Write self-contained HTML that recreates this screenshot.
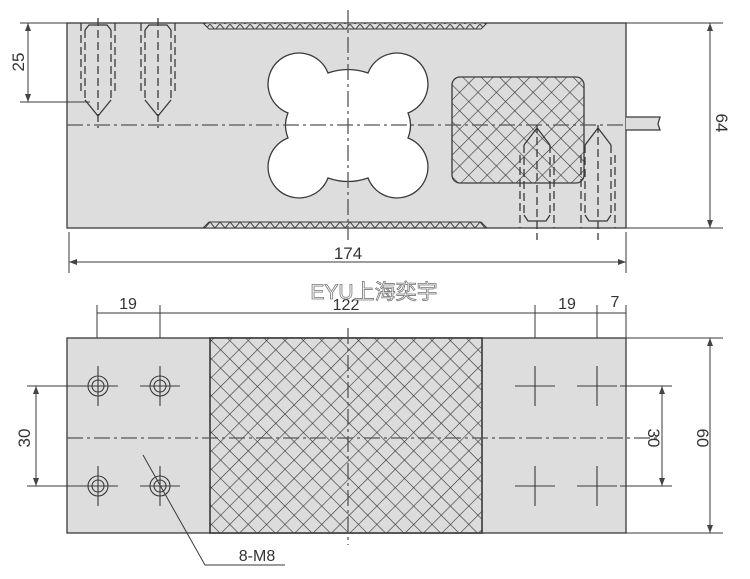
<!DOCTYPE html>
<html><head><meta charset="utf-8"><style>
html,body{margin:0;padding:0;background:#fff;}
svg{display:block;}
text{font-family:"Liberation Sans","Noto Sans CJK SC",sans-serif;fill:#333;}
</style></head><body>
<svg width="750" height="579" viewBox="0 0 750 579" xmlns="http://www.w3.org/2000/svg">
<defs>
<pattern id="h" width="13" height="13" patternUnits="userSpaceOnUse" patternTransform="rotate(45)">
<rect width="13" height="13" fill="#dcdcdc"/>
<line x1="0" y1="0" x2="0" y2="13" stroke="#333" stroke-width="1.2"/>
<line x1="0" y1="0" x2="13" y2="0" stroke="#333" stroke-width="1.2"/>
</pattern>
<pattern id="s" width="10" height="6" patternUnits="userSpaceOnUse">
<rect width="10" height="6" fill="#dcdcdc"/>
<path d="M0 0 L5 6 L10 0" fill="none" stroke="#444" stroke-width="1"/>
</pattern>
</defs>
<g stroke="#3a3a3a" stroke-width="1.3" fill="none">
<!-- TOP VIEW -->
<rect x="67" y="23" width="559" height="205" fill="#dddddd"/>
<polygon points="203,23 487,23 481,29 209,29" fill="url(#s)" stroke-width="1"/>
<polygon points="203,228 487,228 481,222 209,222" fill="url(#s)" stroke-width="1"/>
<!-- flower hole -->
<path d="M328,73 Q348,66 368,73 A31 31 0 1 1 408,113 Q413,125 408,138 A31 31 0 1 1 368,178 Q348,185 328,178 A31 31 0 1 1 288,138 Q283,125 288,113 A31 31 0 1 1 328,73 Z" fill="#fff"/>
<!-- hatched box -->
<rect x="452" y="77" width="132" height="106" rx="8" fill="url(#h)"/>
<!-- cable -->
<path d="M626,117 L660,117 L658,124 L660,130 L626,130" fill="#dddddd"/>
<!-- centerlines -->
<line x1="67" y1="125" x2="626" y2="125" stroke-dasharray="16,4,3,4" stroke="#555"/>
<line x1="348" y1="10" x2="348" y2="240" stroke-dasharray="16,4,3,4" stroke="#555"/>
<!-- left holes -->
<g stroke-dasharray="8,4">
<line x1="81" y1="23" x2="81" y2="92"/><line x1="115" y1="23" x2="115" y2="92"/>
<line x1="85" y1="30" x2="85" y2="100"/><line x1="111" y1="30" x2="111" y2="100"/>
<line x1="98" y1="18" x2="98" y2="128"/>
<line x1="141" y1="23" x2="141" y2="92"/><line x1="175" y1="23" x2="175" y2="92"/>
<line x1="145" y1="30" x2="145" y2="100"/><line x1="171" y1="30" x2="171" y2="100"/>
<line x1="158" y1="18" x2="158" y2="128"/>
</g>
<path d="M85,100 L98,116 L111,100 M85,30 L89,25 L107,25 L111,30 M145,100 L158,116 L171,100 M145,30 L149,25 L167,25 L171,30"/>
<!-- right holes -->
<g stroke-dasharray="8,4">
<line x1="520" y1="155" x2="520" y2="228"/><line x1="554" y1="155" x2="554" y2="228"/>
<line x1="524" y1="145" x2="524" y2="215"/><line x1="550" y1="145" x2="550" y2="215"/>
<line x1="537" y1="125" x2="537" y2="240"/>
<line x1="581" y1="155" x2="581" y2="228"/><line x1="615" y1="155" x2="615" y2="228"/>
<line x1="585" y1="145" x2="585" y2="215"/><line x1="611" y1="145" x2="611" y2="215"/>
<line x1="598" y1="125" x2="598" y2="240"/>
</g>
<path d="M524,145 L537,128 L550,145 M524,215 L528,221 L546,221 L550,215 M585,145 L598,128 L611,145 M585,215 L589,221 L607,221 L611,215"/>
<!-- dim 25 -->
<line x1="20" y1="23" x2="67" y2="23" stroke-width="1"/>
<line x1="20" y1="102" x2="90" y2="102" stroke-width="1"/>
<line x1="28" y1="23" x2="28" y2="102" stroke-width="1"/>
<!-- dim 64 -->
<line x1="626" y1="23" x2="723" y2="23" stroke-width="1"/>
<line x1="626" y1="228" x2="723" y2="228" stroke-width="1"/>
<line x1="710" y1="23" x2="710" y2="228" stroke-width="1"/>
<!-- dim 174 -->
<line x1="69" y1="232" x2="69" y2="273" stroke-width="1"/>
<line x1="626" y1="232" x2="626" y2="273" stroke-width="1"/>
<line x1="69" y1="262" x2="626" y2="262" stroke-width="1"/>
<!-- BOTTOM VIEW -->
<rect x="67" y="338" width="559" height="195" fill="#dddddd"/>
<rect x="210" y="338" width="272" height="195" fill="url(#h)" stroke-width="1.6"/>
<line x1="67" y1="438" x2="660" y2="438" stroke-dasharray="16,4,3,4" stroke="#555"/>
<line x1="348" y1="328" x2="348" y2="545" stroke-dasharray="16,4,3,4" stroke="#555"/>
<g stroke-width="1.1">
<circle cx="98" cy="386" r="10"/><circle cx="98" cy="386" r="6"/>
<circle cx="160" cy="386" r="10"/><circle cx="160" cy="386" r="6"/>
<circle cx="98" cy="486" r="10"/><circle cx="98" cy="486" r="6"/>
<circle cx="160" cy="486" r="10"/><circle cx="160" cy="486" r="6"/>
<path d="M78,386 H118 M98,366 V406 M140,386 H180 M160,366 V406 M78,486 H118 M98,466 V506 M140,486 H180 M160,466 V506"/>
<path d="M515,386 H555 M535,366 V406 M577,386 H617 M597,366 V406 M515,486 H555 M535,466 V506 M577,486 H617 M597,466 V506"/>
</g>
<!-- dim 30 left -->
<line x1="27" y1="386" x2="80" y2="386" stroke-width="1"/>
<line x1="27" y1="486" x2="80" y2="486" stroke-width="1"/>
<line x1="36" y1="386" x2="36" y2="486" stroke-width="1"/>
<!-- dim 30 right -->
<line x1="620" y1="386" x2="672" y2="386" stroke-width="1"/>
<line x1="620" y1="486" x2="672" y2="486" stroke-width="1"/>
<line x1="662" y1="386" x2="662" y2="486" stroke-width="1"/>
<!-- dim 60 -->
<line x1="626" y1="338" x2="723" y2="338" stroke-width="1"/>
<line x1="626" y1="533" x2="723" y2="533" stroke-width="1"/>
<line x1="710" y1="338" x2="710" y2="533" stroke-width="1"/>
<!-- top dims bottom view -->
<line x1="97" y1="313" x2="626" y2="313" stroke-width="1"/>
<path d="M97,305 V338 M160,305 V338 M535,305 V338 M597,305 V338 M626,305 V338" stroke-width="1"/>
<!-- leader -->
<path d="M143,455 L205,565 L285,565" stroke-width="1"/>
</g>
<g fill="#444">
<polygon points="28,23 25,31 31,31"/><polygon points="28,102 25,94 31,94"/>
<polygon points="710,23 707,31 713,31"/><polygon points="710,228 707,220 713,220"/>
<polygon points="69,262 77,259 77,265"/><polygon points="626,262 618,259 618,265"/>
<polygon points="36,386 33,394 39,394"/><polygon points="36,486 33,478 39,478"/>
<polygon points="662,386 659,394 665,394"/><polygon points="662,486 659,478 665,478"/>
<polygon points="710,338 707,346 713,346"/><polygon points="710,533 707,525 713,525"/>
</g>
<text x="348" y="259" font-size="17" text-anchor="middle">174</text>
<text transform="translate(24,62) rotate(-90)" font-size="17" text-anchor="middle">25</text>
<text transform="translate(716,123) rotate(90)" font-size="17" text-anchor="middle">64</text>
<text transform="translate(30,438) rotate(-90)" font-size="17" text-anchor="middle">30</text>
<text transform="translate(648,438) rotate(90)" font-size="17" text-anchor="middle">30</text>
<text transform="translate(697,438) rotate(90)" font-size="17" text-anchor="middle">60</text>
<text x="128" y="309" font-size="16" text-anchor="middle">19</text>
<text x="346" y="310" font-size="16" text-anchor="middle">122</text>
<text x="567" y="309" font-size="16" text-anchor="middle">19</text>
<text x="615" y="307" font-size="16" text-anchor="middle">7</text>
<text x="257" y="561" font-size="16" text-anchor="middle">8-M8</text>
<text x="374" y="299" font-size="21" text-anchor="middle" style="fill:#fff;stroke:#777;stroke-width:0.8">EYU上海奕宇</text>
</svg>
</body></html>
